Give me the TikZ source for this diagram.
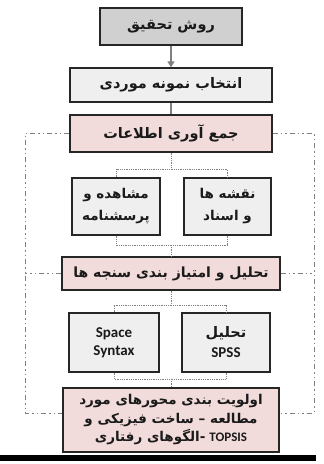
\documentclass[tikz,border=0pt]{standalone}
\usepackage{fontspec}
\usetikzlibrary{arrows.meta}
\TeXXeTstate=1
\newfontfamily\fa[Script=Arabic]{DejaVu Sans}
\newfontfamily\lat{Carlito}
\definecolor{pinkfill}{HTML}{F2DCDB}
\definecolor{lightfill}{HTML}{EFEFEF}
\definecolor{grayfill}{HTML}{D0D0D0}
\definecolor{linegray}{HTML}{808080}
\definecolor{txt}{HTML}{1A1A1A}
\tikzset{
  box/.style={draw=black!85, line width=1.3pt, inner sep=0pt, align=center, text=txt,
    font=\fa\bfseries\fontsize{14.5}{20}\selectfont},
  pinkbox/.style={box, fill=pinkfill},
  lightbox/.style={box, fill=lightfill},
  graybox/.style={box, fill=grayfill},
  dotline/.style={draw=linegray, line width=0.8pt, dash pattern=on 0.9pt off 0.9pt},
  frameline/.style={draw=linegray, line width=0.9pt, dash pattern=on 5pt off 3pt on 1.5pt off 3pt on 1.5pt off 3pt},
  solidgray/.style={draw=linegray, line width=1.6pt}
}
\begin{document}
\begin{tikzpicture}[x=1pt,y=-1pt]
\useasboundingbox (0,0) rectangle (324,464);
\fill[white] (0,0) rectangle (324,464);

\node[graybox, minimum width=142pt, minimum height=37pt] (b1) at (171,26.5) {\beginR روش تحقیق\endR};
\node[lightbox, minimum width=202pt, minimum height=34pt] (b2) at (171,85) {\beginR انتخاب نمونه موردی\endR};
\node[pinkbox, minimum width=202pt, minimum height=37pt] (b3) at (171,133.5) {\beginR جمع آوری اطلاعات\endR};
\node[lightbox, minimum width=88pt, minimum height=57pt, font=\fa\bfseries\fontsize{13.5}{20}\selectfont] (b4) at (116,206.5) {\beginR مشاهده و\endR\\[2pt]\beginR پرسشنامه\endR};
\node[lightbox, minimum width=87pt, minimum height=57pt, font=\fa\bfseries\fontsize{13.5}{20}\selectfont] (b5) at (227.5,206.5) {\beginR نقشه ها\endR\\[2pt]\beginR و اسناد\endR};
\node[pinkbox, minimum width=218pt, minimum height=33pt, font=\fa\bfseries\fontsize{14}{20}\selectfont] (b6) at (171,273.5) {\beginR تحلیل و امتیاز بندی سنجه ها\endR};
\node[lightbox, minimum width=90pt, minimum height=59pt, font=\lat\bfseries\fontsize{15}{18}\selectfont] (b7) at (114,342.5) {Space\\Syntax};
\node[lightbox, minimum width=88pt, minimum height=59pt] (b8) at (226,342.5) {\beginR تحلیل\endR\\{\lat\bfseries\fontsize{15}{18}\selectfont SPSS}};
\node[pinkbox, minimum width=216pt, minimum height=64pt, font=\fa\bfseries\fontsize{13.5}{18.5}\selectfont] (b9) at (171,420) {\beginR اولویت بندی محورهای مورد\endR\\\beginR مطالعه – ساخت فیزیکی و\endR\\\hbox{\beginL\hbox{\beginR الگوهای رفتاری\endR}\hbox{-}\hskip4pt\hbox{\lat\bfseries\fontsize{13}{18}\selectfont TOPSIS}\endL}};

% bottom bar
\fill[black] (0,455) rectangle (316,461);

% main connectors
\draw[solidgray, -{Triangle[width=7pt,length=6pt]}] (b1.south) -- (b2.north);
\draw[solidgray] (b2.south) -- (b3.north);

% junctions
\coordinate (j1) at (171,169);
\coordinate (j2) at (171,245);
\coordinate (j3) at (171,305);
\coordinate (j4) at (171,379);
\draw[dotline] (b3.south) -- (j1);
\draw[dotline] (b4.north) |- (j1) -| (b5.north);
\draw[dotline] (b4.south) |- (j2) -| (b5.south);
\draw[dotline] (j2) -- (b6.north);
\draw[dotline] (b6.south) -- (j3);
\draw[dotline] (b7.north) |- (j3) -| (b8.north);
\draw[dotline] (b7.south) |- (j4) -| (b8.south);
\draw[dotline] (j4) -- (b9.north);

% outer frame
\coordinate (fl1) at (25,133.5);
\coordinate (fr1) at (314,133.5);
\coordinate (fl3) at (25,413);
\coordinate (fr3) at (314,413);
\draw[frameline] (b3.west) -- (fl1) -- (fl3) -- (b9.west |- fl3);
\draw[frameline] (b3.east) -- (fr1) -- (fr3) -- (b9.east |- fr3);
\draw[frameline] (b6.west) -- (b6.west -| fl1);
\draw[frameline] (b6.east) -- (b6.east -| fr1);
\end{tikzpicture}
\end{document}
